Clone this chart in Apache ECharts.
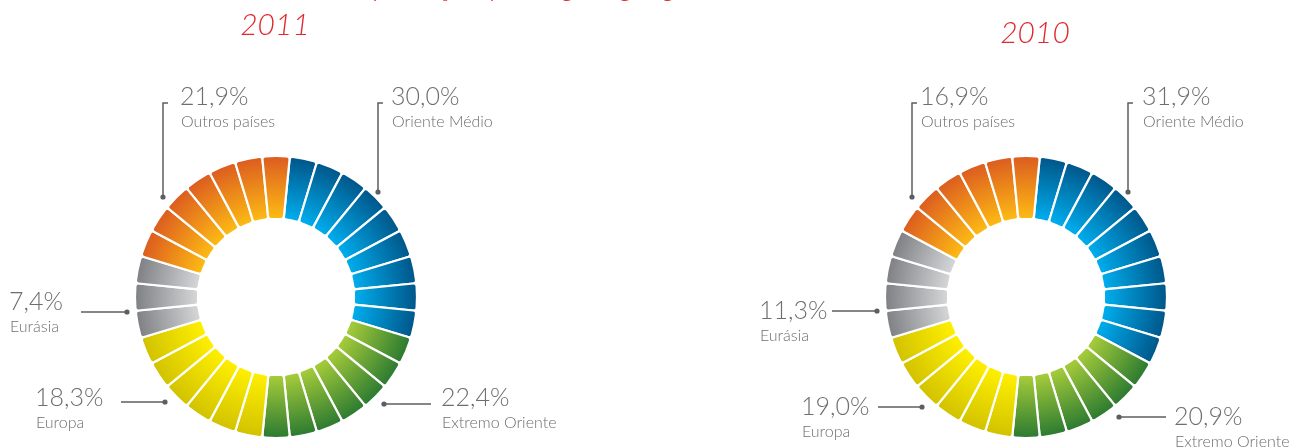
<!DOCTYPE html>
<html>
<head>
<meta charset="utf-8">
<script src="https://cdn.jsdelivr.net/npm/echarts@6/dist/echarts.min.js"></script>
<style>
  html, body { margin: 0; padding: 0; background: #fff; }
  #main { width: 1295px; height: 447px; }
</style>
</head>
<body>
<div id="main"></div>
<script>
const regions = ['Oriente Médio', 'Extremo Oriente', 'Europa', 'Eurásia', 'Outros países'];
const years = ['2011', '2010'];
const share2011 = [30.0, 22.4, 18.3, 7.4, 21.9];
const share2010 = [31.9, 20.9, 19.0, 11.3, 16.9];
// blocks per region, counted on each ring (32 blocks per ring)
const blocks2011 = [9, 7, 6, 3, 7];
const blocks2010 = [10, 6, 6, 4, 6];

const innerColors = ['#00aeef', '#a8cd3a', '#fff000', '#d6d7d9', '#fdbb14'];
const outerColors = ['#005689', '#2b7a31', '#d2c200', '#7f8083', '#dc5c20'];

const centers = [[276, 297], [1026, 297]];
const radius = [78, 141];

const chart = echarts.init(document.getElementById('main'));

let ringData = (blocks, c) => {
  let data = [];
  regions.forEach((name, i) => {
    let color = new echarts.graphic.RadialGradient(c[0], c[1], radius[1], [
      { offset: radius[0] / radius[1], color: innerColors[i] },
      { offset: 1, color: outerColors[i] }
    ], true);
    for (let k = 0; k < blocks[i]; k++) {
      data.push({ name: name, value: 1, itemStyle: { color: color } });
    }
  });
  return data;
};

// label placement for each region: text pos, leader line, dot
const labelPos = [
  [
    { t: [391, 97], line: [[383, 103], [378, 103], [378, 192]], dot: [378, 192] },
    { t: [441, 398], line: [[384, 404], [431, 404]], dot: [384, 404] },
    { t: [35, 398], line: [[121, 402], [165, 402]], dot: [165, 402] },
    { t: [9, 302], line: [[81, 312], [127, 312]], dot: [127, 312] },
    { t: [180, 97], line: [[168, 103], [163, 103], [163, 197]], dot: [163, 197] }
  ],
  [
    { t: [1142, 97], line: [[1133, 103], [1128, 103], [1128, 192]], dot: [1128, 192] },
    { t: [1174, 417], line: [[1119, 417], [1166, 417]], dot: [1119, 417] },
    { t: [801, 407], line: [[878, 407], [922, 407]], dot: [922, 407] },
    { t: [759, 311], line: [[832, 311], [877, 311]], dot: [877, 311] },
    { t: [920, 97], line: [[917, 103], [912, 103], [912, 197]], dot: [912, 197] }
  ]
];

let fmt = (v) => v.toFixed(1).replace('.', ',') + '%';

let graphics = [];
[share2011, share2010].forEach((shares, r) => {
  shares.forEach((v, i) => {
    let p = labelPos[r][i];
    graphics.push({
      type: 'polyline', silent: true,
      shape: { points: p.line },
      style: { stroke: '#5d5e60', lineWidth: 1.5, fill: null }
    });
    graphics.push({
      type: 'circle', silent: true,
      shape: { cx: p.dot[0], cy: p.dot[1], r: 2.6 },
      style: { fill: '#5d5e60' }
    });
    graphics.push({
      type: 'text', silent: true, x: p.t[0], y: p.t[1],
      style: {
        text: fmt(v), fill: '#6d6e71', verticalAlign: 'middle',
        font: '300 25px Lato, "Open Sans", sans-serif'
      }
    });
    graphics.push({
      type: 'text', silent: true, x: p.t[0] + 1, y: p.t[1] + 25,
      style: {
        text: regions[i], fill: '#6d6e71', verticalAlign: 'middle',
        font: '300 16px Lato, "Open Sans", sans-serif'
      }
    });
  });
});

// year titles
graphics.push({
  type: 'text', silent: true, x: 275, y: 25,
  style: { text: years[0], fill: '#e0282e', align: 'center', verticalAlign: 'middle',
    font: 'italic 300 30px Lato, "Open Sans", sans-serif' }
});
graphics.push({
  type: 'text', silent: true, x: 1035, y: 33,
  style: { text: years[1], fill: '#e0282e', align: 'center', verticalAlign: 'middle',
    font: 'italic 300 30px Lato, "Open Sans", sans-serif' }
});
// main heading, cut off by the top edge
graphics.push({
  type: 'text', silent: true, x: 655, y: -14,
  style: { text: 'Exportação por região geográfica, em toneladas (%)', fill: '#e0282e',
    align: 'center', verticalAlign: 'middle',
    font: 'italic 300 30px Lato, "Open Sans", sans-serif' }
});

let ring = (blocks, c) => ({
  type: 'pie',
  center: c,
  radius: radius,
  startAngle: 90 - 360 / 64,
  clockwise: true,
  silent: true,
  animation: false,
  label: { show: false },
  labelLine: { show: false },
  itemStyle: { borderColor: '#fff', borderWidth: 2.2, borderRadius: 3 },
  data: ringData(blocks, c)
});

chart.setOption({
  animation: false,
  graphic: graphics,
  series: [ring(blocks2011, centers[0]), ring(blocks2010, centers[1])]
});

window.onresize = function () {
  chart.resize();
};
</script>
</body>
</html>
